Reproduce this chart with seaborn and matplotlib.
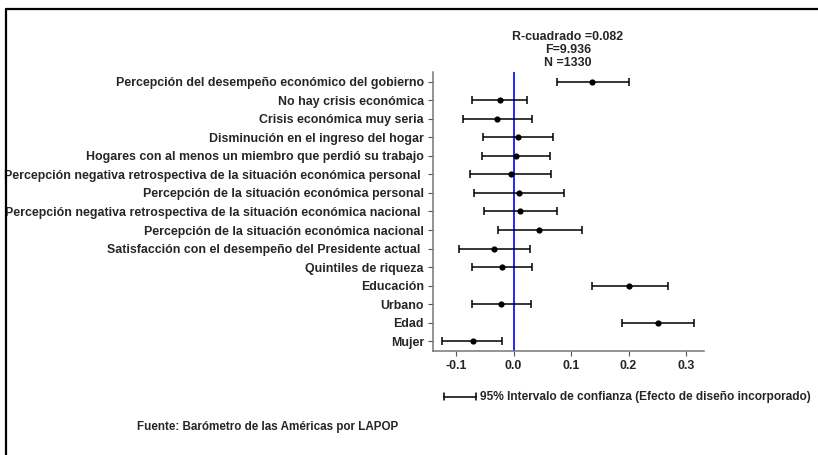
import matplotlib
matplotlib.use('Agg')
import matplotlib.pyplot as plt
import matplotlib.lines as mlines
import pandas as pd
import seaborn as sns

# coeficientes estandarizados y su intervalo de confianza al 95%
variables = [
    'Percepción del desempeño económico del gobierno',
    'No hay crisis económica',
    'Crisis económica muy seria',
    'Disminución en el ingreso del hogar',
    'Hogares con al menos un miembro que perdió su trabajo',
    'Percepción negativa retrospectiva de la situación económica personal ',
    'Percepción de la situación económica personal',
    'Percepción negativa retrospectiva de la situación económica nacional ',
    'Percepción de la situación económica nacional',
    'Satisfacción con el desempeño del Presidente actual ',
    'Quintiles de riqueza',
    'Educación',
    'Urbano',
    'Edad',
    'Mujer',
]
coef = [0.137, -0.024, -0.028, 0.008, 0.005, -0.005, 0.009, 0.011, 0.045,
        -0.034, -0.020, 0.201, -0.022, 0.251, -0.071]
ci_low = [0.075, -0.073, -0.087, -0.053, -0.055, -0.075, -0.069, -0.052, -0.027,
          -0.095, -0.073, 0.136, -0.072, 0.189, -0.124]
ci_high = [0.200, 0.024, 0.032, 0.068, 0.064, 0.066, 0.088, 0.075, 0.119,
           0.028, 0.032, 0.269, 0.030, 0.313, -0.020]
x_ticks = [-0.1, 0.0, 0.1, 0.2, 0.3]
stats_text = 'R-cuadrado =0.082\nF=9.936\nN =1330'

df = pd.DataFrame({'variable': variables, 'coef': coef,
                   'low': ci_low, 'high': ci_high})
df['pos'] = range(len(df))

sns.set_style('white')
plt.rcParams['font.family'] = ['Liberation Sans', 'DejaVu Sans']
plt.rcParams['font.weight'] = 'bold'
fs = 8.9

fig = plt.figure(figsize=(8.18, 4.55), dpi=100)
ax = fig.add_axes([0.5293, 0.2286, 0.3313, 0.6132])

# intervalos
ax.errorbar(df['coef'], df['pos'],
            xerr=[df['coef'] - df['low'], df['high'] - df['coef']],
            fmt='none', ecolor='black', elinewidth=1.1, capsize=2.6,
            capthick=1.1, zorder=3)
sns.scatterplot(data=df, x='coef', y='pos', color='black', s=20,
                edgecolor='black', linewidth=0, zorder=4, ax=ax)
ax.axvline(0, color='#0000ff', lw=1.2, zorder=2)

ax.set_ylim(len(df) - 0.47, -0.53)
ax.set_xlim(-0.14, 0.331)
ax.set_yticks(df['pos'])
ax.set_yticklabels(df['variable'], fontsize=fs, fontweight='bold')
ax.set_xticks(x_ticks)
ax.set_xticklabels([f'{t:.1f}' for t in x_ticks], fontsize=fs,
                   fontweight='bold')
ax.set_xlabel('')
ax.set_ylabel('')
ax.tick_params(axis='both', direction='out', length=3.5, width=0.8,
               color='#555555', pad=3, left=True, bottom=True)
sns.despine(ax=ax)
for s in ['left', 'bottom']:
    ax.spines[s].set_color('#777777')
    ax.spines[s].set_linewidth(1.1)

fig.text(0.694, 1 - 50 / 455, stats_text, ha='center', va='center',
         fontsize=fs, fontweight='bold', linespacing=1.1)

# leyenda del intervalo
fig.add_artist(mlines.Line2D([444 / 818, 476 / 818],
                             [1 - 396.5 / 455, 1 - 396.5 / 455],
                             color='black', lw=1.1))
for xc in [444, 476]:
    fig.add_artist(mlines.Line2D([xc / 818, xc / 818],
                                 [1 - 393 / 455, 1 - 400 / 455],
                                 color='black', lw=1.1))
fig.text(480 / 818, 1 - 397 / 455,
         '95% Intervalo de confianza (Efecto de diseño incorporado)',
         ha='left', va='center', fontsize=8.6, fontweight='bold')
fig.text(137 / 818, 1 - 427 / 455, 'Fuente: Barómetro de las Américas por LAPOP',
         ha='left', va='center', fontsize=8.4, fontweight='bold')

# marco
fig.add_artist(mlines.Line2D([5.5 / 818, 5.5 / 818], [0, 1 - 8.5 / 455],
                             color='black', lw=1.6))
fig.add_artist(mlines.Line2D([5.5 / 818, 1], [1 - 8.5 / 455, 1 - 8.5 / 455],
                             color='black', lw=1.6))

fig.savefig('out.png', dpi=100)
